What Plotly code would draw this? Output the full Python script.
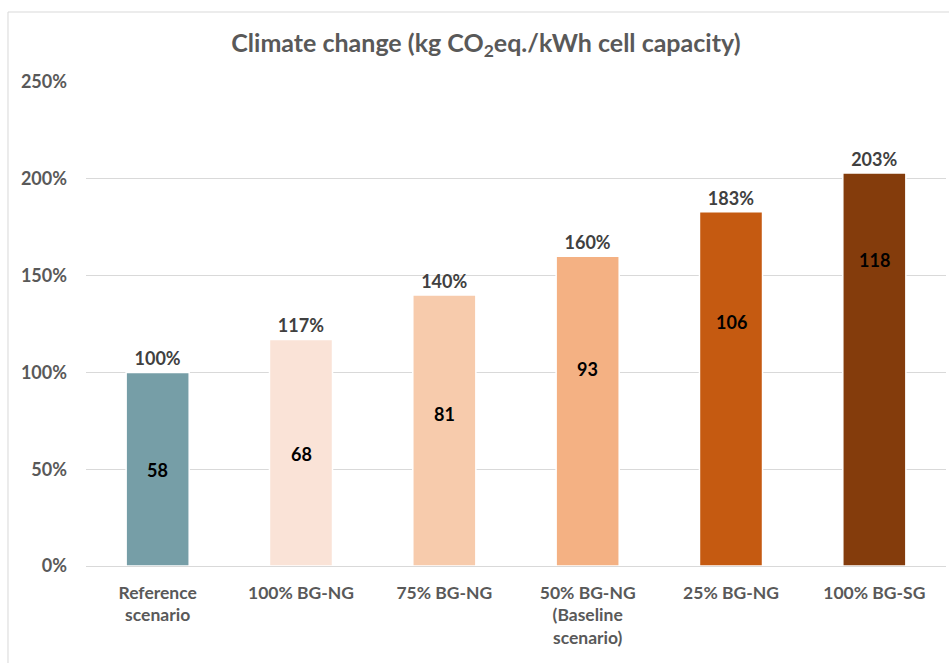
import plotly.graph_objects as go

# Scenarios and results
scenarios = ["Reference<br>scenario", "100% BG-NG", "75% BG-NG",
             "50% BG-NG<br>(Baseline<br>scenario)", "25% BG-NG", "100% BG-SG"]
relative_pct = [100, 117, 140, 160, 183, 203]          # % of reference scenario
kg_co2_per_kwh = [58, 68, 81, 93, 106, 118]            # kg CO2eq./kWh cell capacity
y_ticks = [0, 50, 100, 150, 200, 250]

bar_colors = ["#769EA7", "#FAE3D7", "#F7CBAC", "#F4B183", "#C55A11", "#843C0C"]
# vertical placement of the kg labels, as a fraction of each bar's height
inner_label_frac = [0.496, 0.495, 0.561, 0.636, 0.689, 0.779]

FONT = "Lato"
GREY = "#595959"

fig = go.Figure()
fig.add_trace(go.Bar(
    x=scenarios,
    y=relative_pct,
    width=0.44,
    marker=dict(color=bar_colors, line=dict(color="white", width=1.5)),
    text=[f"{v}%" for v in relative_pct],
    textposition="outside",
    textfont=dict(family=FONT, size=18, color="#404040", weight="bold"),
    cliponaxis=False,
    hoverinfo="skip",
))

for cat, v, kg, f in zip(scenarios, relative_pct, kg_co2_per_kwh, inner_label_frac):
    fig.add_annotation(
        x=cat, y=v * f, text=f"<b>{kg}</b>", showarrow=False,
        font=dict(family=FONT, size=18, color="black"),
        xanchor="center", yanchor="middle",
    )

# outer chart frame
fig.add_shape(type="rect", xref="paper", yref="paper",
              x0=-0.0907, x1=1.2, y0=-0.3, y1=1.1446,
              line=dict(color="#D9D9D9", width=1), fillcolor="rgba(0,0,0,0)",
              layer="below")

fig.update_layout(
    width=949, height=663,
    margin=dict(l=86, r=3, t=82, b=97),
    paper_bgcolor="white", plot_bgcolor="white",
    showlegend=False,
    bargap=0.56,
    title=dict(
        text="<b>Climate change (kg CO<sub>2</sub>eq./kWh cell capacity)</b>",
        x=0.465, xref="paper", xanchor="center",
        y=1 - 43 / 663, yanchor="middle",
        font=dict(family=FONT, size=25, color=GREY),
    ),
    font=dict(family=FONT, color=GREY),
)

fig.update_yaxes(
    range=[0, 250], tickvals=y_ticks,
    ticktext=[f"<b>{t}%</b>" for t in y_ticks],
    tickfont=dict(family=FONT, size=18, color=GREY),
    showgrid=True, gridcolor="#D9D9D9", gridwidth=1,
    zeroline=True, zerolinecolor="#D9D9D9", zerolinewidth=1,
    showline=False, ticks="", ticklabelstandoff=18,
)
fig.update_xaxes(
    tickfont=dict(family=FONT, size=17.5, color=GREY, weight="bold"),
    showline=False, showgrid=False, ticks="", ticklabelstandoff=14,
)

fig.write_html("out.html")
